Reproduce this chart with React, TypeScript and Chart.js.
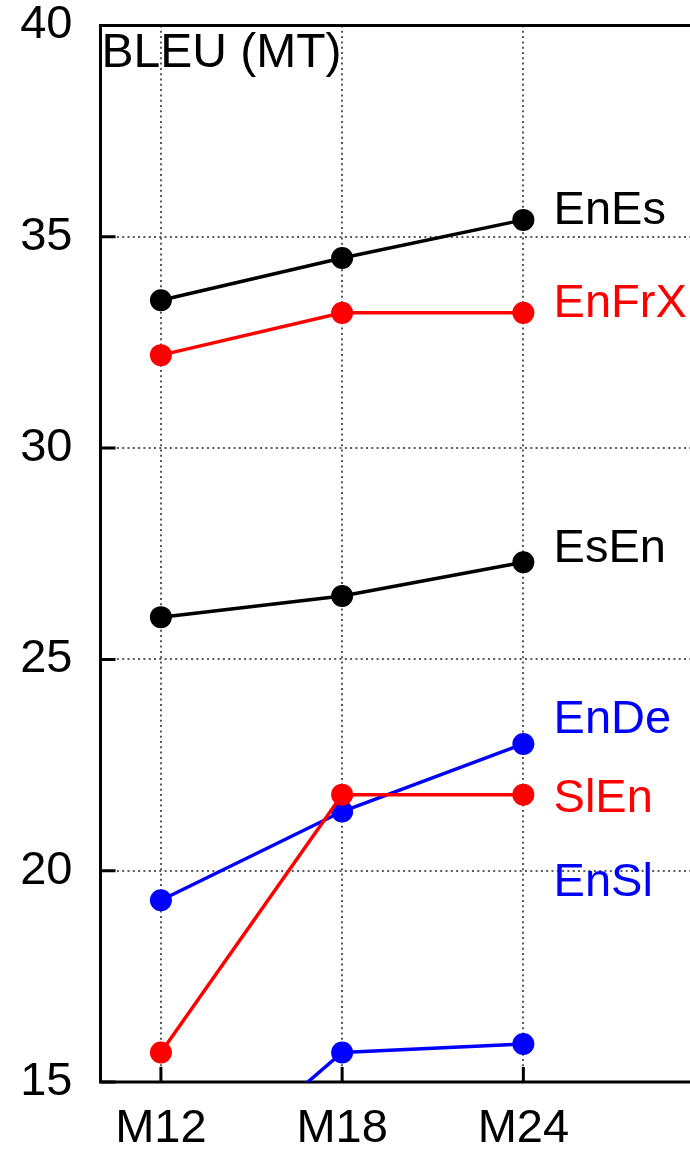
import { useEffect, useRef } from "react";
import { Chart, registerables } from "chart.js";

Chart.register(...registerables);

// ---- data ----
const months = [12, 18, 24];
const monthLabels = ["M12", "M18", "M24"];
const yTicks = [15, 20, 25, 30, 35, 40];
const seriesNames = ["EnEs", "EnFrX", "EsEn", "EnDe", "SlEn", "EnSl"];
const seriesColors = ["#000000", "#ff0000", "#000000", "#0000ff", "#ff0000", "#0000ff"];
const enEs = [33.5, 34.5, 35.4];
const enFrX = [32.2, 33.2, 33.2];
const esEn = [26.0, 26.5, 27.3];
const enDe = [19.3, 21.4, 23.0];
const slEn = [15.7, 21.8, 21.8];
const enSl = [12.0, 15.7, 15.9];
const seriesValues = [enEs, enFrX, esEn, enDe, slEn, enSl];
const labelX = 25.0;
const labelY = [35.3, 33.1, 27.3, 23.25, 21.4, 19.4];
const title = "BLEU (MT)";

const FONT = '"Liberation Sans", Arial, Helvetica, sans-serif';

const framePlugin = {
  id: "frame",
  beforeDatasetsDraw(chart: any) {
    const { ctx, chartArea: ca, scales } = chart;
    ctx.save();
    ctx.strokeStyle = "#000";
    ctx.lineWidth = 3;
    ctx.setLineDash([]);
    ctx.lineJoin = "miter";
    ctx.lineCap = "butt";
    ctx.beginPath();
    ctx.moveTo(ca.right + 20, ca.top);
    ctx.lineTo(ca.left, ca.top);
    ctx.lineTo(ca.left, ca.bottom);
    ctx.lineTo(ca.right + 20, ca.bottom);
    ctx.stroke();
    ctx.beginPath();
    months.forEach((m) => {
      const x = scales.x.getPixelForValue(m);
      ctx.moveTo(x, ca.bottom);
      ctx.lineTo(x, ca.bottom - 15);
    });
    yTicks.forEach((v) => {
      const y = scales.y.getPixelForValue(v);
      ctx.moveTo(ca.left, y);
      ctx.lineTo(ca.left + 15, y);
    });
    ctx.stroke();
    ctx.restore();
  },
  afterDatasetsDraw(chart: any) {
    const { ctx, chartArea: ca, scales } = chart;
    ctx.save();
    ctx.textBaseline = "alphabetic";
    ctx.textAlign = "left";
    ctx.fillStyle = "#000";
    ctx.font = `48px ${FONT}`;
    ctx.fillText(title, ca.left + 1, ca.top + 41.5);
    ctx.font = `47px ${FONT}`;
    seriesNames.forEach((name, i) => {
      ctx.fillStyle = seriesColors[i];
      ctx.fillText(name, scales.x.getPixelForValue(labelX), scales.y.getPixelForValue(labelY[i]));
    });
    ctx.restore();
  },
};

export default function App() {
  const ref = useRef<HTMLCanvasElement | null>(null);
  useEffect(() => {
    if (!ref.current) return;
    const datasets = seriesNames.map((name, i) => ({
      label: name,
      data: months.map((m, j) => ({ x: m, y: seriesValues[i][j] })),
      borderColor: seriesColors[i],
      backgroundColor: seriesColors[i],
      pointBackgroundColor: seriesColors[i],
      pointBorderColor: seriesColors[i],
      pointBorderWidth: 0,
      pointRadius: 11,
      borderWidth: 3.5,
      tension: 0,
      fill: false,
      order: 10 - i,
    }));
    const chart = new Chart(ref.current, {
      type: "line",
      data: { datasets },
      plugins: [framePlugin],
      options: {
        animation: false,
        responsive: false,
        layout: { padding: { top: 25.5, left: 0, right: 0, bottom: 0 } },
        plugins: { legend: { display: false }, tooltip: { enabled: false }, title: { display: false } },
        scales: {
          x: {
            type: "linear",
            min: 10,
            max: 29.65,
            afterBuildTicks: (s: any) => {
              s.ticks = months.map((v) => ({ value: v }));
            },
            afterFit: (s: any) => {
              s.height = 69;
              s.paddingLeft = 0;
              s.paddingRight = 0;
            },
            ticks: {
              autoSkip: false,
              maxRotation: 0,
              minRotation: 0,
              padding: 19,
              color: "#000",
              font: { family: FONT, size: 47, lineHeight: 1.2 },
              callback: (v: any) => {
                const k = months.indexOf(Number(v));
                return k >= 0 ? monthLabels[k] : "";
              },
            },
            grid: { color: "#5a5a5a", lineWidth: 2, drawTicks: false },
            border: { display: false, dash: [2, 3.3] },
          },
          y: {
            type: "linear",
            min: 15,
            max: 40,
            afterBuildTicks: (s: any) => {
              s.ticks = yTicks.map((v) => ({ value: v }));
            },
            afterFit: (s: any) => {
              s.width = 100.5;
              s.paddingTop = 0;
              s.paddingBottom = 0;
            },
            ticks: {
              padding: 28,
              color: "#000",
              font: { family: FONT, size: 47, lineHeight: 1 },
            },
            grid: { color: "#5a5a5a", lineWidth: 2, drawTicks: false },
            border: { display: false, dash: [2, 3.3] },
          },
        },
      },
    });
    return () => chart.destroy();
  }, []);
  return (
    <div
      style={{
        position: "fixed",
        left: 0,
        top: 0,
        width: 690,
        height: 1151,
        overflow: "hidden",
        background: "#fff",
      }}
    >
      <canvas
        ref={ref}
        width={705}
        height={1151}
        style={{ display: "block", width: "705px", height: "1151px" }}
      />
    </div>
  );
}
